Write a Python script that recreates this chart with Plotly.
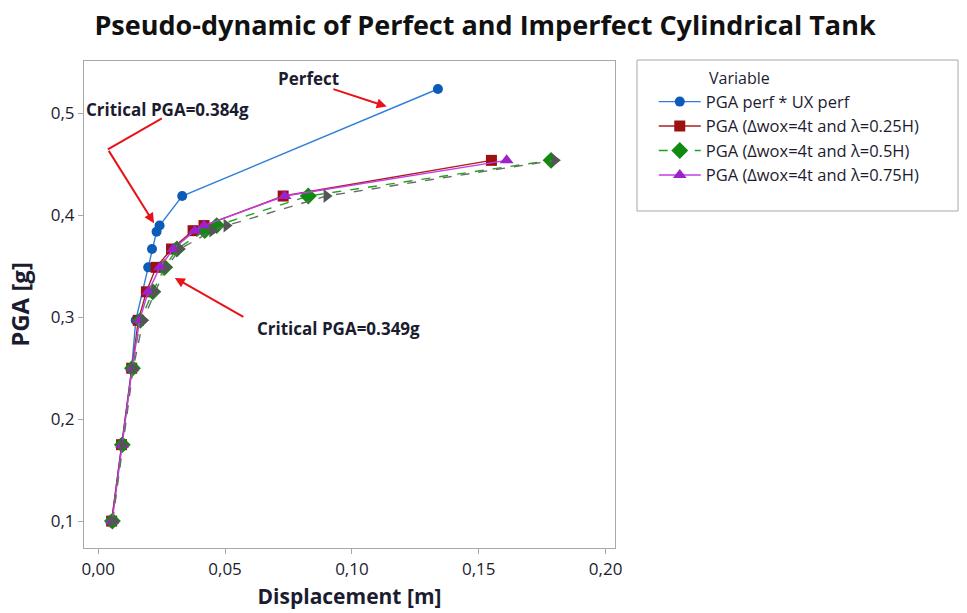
import plotly.graph_objects as go

# ---------------- data ----------------
y_perf = [0.100, 0.175, 0.250, 0.297, 0.349, 0.367, 0.384, 0.390, 0.419, 0.524]
x_perf = [0.0053, 0.0092, 0.0132, 0.0148, 0.0197, 0.0212, 0.0230, 0.0242, 0.0331, 0.1339]

y_imp = [0.100, 0.175, 0.250, 0.297, 0.325, 0.349, 0.367, 0.385, 0.390, 0.419, 0.454]
x_025 = [0.0053, 0.0092, 0.0132, 0.0158, 0.0190, 0.0228, 0.0289, 0.0374, 0.0417, 0.0729, 0.1550]
x_050 = [0.0056, 0.0095, 0.0135, 0.0166, 0.0215, 0.0262, 0.0310, 0.0420, 0.0467, 0.0828, 0.1785]
x_075 = [0.0055, 0.0094, 0.0134, 0.0163, 0.0197, 0.0243, 0.0296, 0.0381, 0.0417, 0.0735, 0.1610]
x_gray = [0.0057, 0.0097, 0.0138, 0.0177, 0.0224, 0.0270, 0.0322, 0.0450, 0.0506, 0.0900, 0.1800]

names = ["PGA perf * UX perf",
         "PGA (Δwox=4t and λ=0.25H)",
         "PGA (Δwox=4t and λ=0.5H)",
         "PGA (Δwox=4t and λ=0.75H)"]

x_ticks = [0.00, 0.05, 0.10, 0.15, 0.20]
y_ticks = [0.1, 0.2, 0.3, 0.4, 0.5]

TXT = "#1c1c30"
RED = "#e8121a"

fig = go.Figure()

fig.add_trace(go.Scatter(x=x_perf, y=y_perf, mode="lines+markers", name=names[0],
                         line=dict(color="#2f7fd6", width=1.4),
                         marker=dict(symbol="circle", size=10, color="#0b5cb8")))
fig.add_trace(go.Scatter(x=x_025, y=y_imp, mode="lines+markers", name=names[1],
                         line=dict(color="#b01c1c", width=1.4),
                         marker=dict(symbol="square", size=11, color="#9c1010")))
fig.add_trace(go.Scatter(x=x_050, y=y_imp, mode="lines+markers", name=names[2],
                         line=dict(color="#1ca51c", width=1.4, dash="dash"),
                         marker=dict(symbol="diamond", size=13, color="#108a10")))
fig.add_trace(go.Scatter(x=x_075, y=y_imp, mode="lines+markers", name=names[3],
                         line=dict(color="#c23ee6", width=1.4),
                         marker=dict(symbol="triangle-up", size=12, color="#9b22cc")))
fig.add_trace(go.Scatter(x=x_gray, y=y_imp, mode="lines+markers", name="gray",
                         showlegend=False,
                         line=dict(color="#6a6a6a", width=1.4, dash="dash"),
                         marker=dict(symbol="triangle-right", size=12, color="#555555")))

ann_font = dict(family="Open Sans", size=17, color=TXT, weight="bold")

annotations = [
    dict(x=0.0827, y=0.534, text="Perfect", showarrow=False, font=ann_font,
         xref="x", yref="y"),
    dict(x=0.1137, y=0.5068, ax=0.0921, ay=0.5244, axref="x", ayref="y",
         xref="x", yref="y", text="", showarrow=True, arrowhead=2,
         arrowsize=1, arrowwidth=2, arrowcolor=RED),
    dict(x=0.0275, y=0.504, text="Critical PGA=0.384g", showarrow=False,
         font=ann_font, xref="x", yref="y"),
    dict(x=0.0220, y=0.3924, ax=0.0038, ay=0.4648, axref="x", ayref="y",
         xref="x", yref="y", text="", showarrow=True, arrowhead=2,
         arrowsize=1, arrowwidth=2, arrowcolor=RED),
    dict(x=0.0946, y=0.2888, text="Critical PGA=0.349g", showarrow=False,
         font=ann_font, xref="x", yref="y"),
    dict(x=0.0302, y=0.3386, ax=0.0578, ay=0.2995, axref="x", ayref="y",
         xref="x", yref="y", text="", showarrow=True, arrowhead=2,
         arrowsize=1, arrowwidth=2, arrowcolor=RED),
    dict(x=1.173, y=0.965, xref="paper", yref="paper", text="Variable",
         showarrow=False, xanchor="left", yanchor="middle",
         font=dict(family="Open Sans", size=16, color=TXT)),
]

shapes = [
    dict(type="line", xref="x", yref="y", x0=0.0251, y0=0.4951, x1=0.0038, y1=0.4648,
         line=dict(color=RED, width=2)),
    dict(type="rect", xref="paper", yref="paper", x0=1.0414, x1=1.646, y0=0.692, y1=1.002,
         line=dict(color="#a8a8a8", width=1), fillcolor="rgba(0,0,0,0)"),
]

fig.update_layout(
    width=967, height=613,
    margin=dict(l=84, r=352, t=61, b=65),
    paper_bgcolor="white", plot_bgcolor="white",
    separators=",.",
    title=dict(text="<b>Pseudo-dynamic of Perfect and Imperfect Cylindrical Tank</b>",
               x=0.5016, xref="container", y=0.959, yref="container",
               xanchor="center", yanchor="middle",
               font=dict(family="Open Sans", size=27, color="#111111")),
    annotations=annotations,
    shapes=shapes,
    legend=dict(x=1.073, y=0.952, xanchor="left", yanchor="top",
                bgcolor="rgba(0,0,0,0)", borderwidth=0,
                font=dict(family="Open Sans", size=16.5, color=TXT),
                itemwidth=42),
    font=dict(family="Open Sans", color=TXT),
)

fig.update_xaxes(range=[-0.0056, 0.2037], tickvals=x_ticks, tickformat=".2f",
                 automargin=False,
                 showgrid=False, zeroline=False, showline=True, mirror=True,
                 linecolor="#a8a8a8", linewidth=1.2, ticks="outside", ticklen=5,
                 tickcolor="#a8a8a8", tickfont=dict(family="Open Sans", size=17, color=TXT),
                 title=dict(text="<b>Displacement [m]</b>", standoff=10,
                            font=dict(family="Open Sans", size=21, color=TXT)))
fig.update_yaxes(range=[0.0736, 0.5515], tickvals=y_ticks, tickformat=".1f",
                 automargin=False,
                 showgrid=False, zeroline=False, showline=True, mirror=True,
                 linecolor="#a8a8a8", linewidth=1.2, ticks="outside", ticklen=5,
                 tickcolor="#a8a8a8", tickfont=dict(family="Open Sans", size=17, color=TXT),
                 title=dict(text="<b>PGA [g]</b>", standoff=14,
                            font=dict(family="Open Sans", size=24, color=TXT)))

fig.write_html("out.html")
